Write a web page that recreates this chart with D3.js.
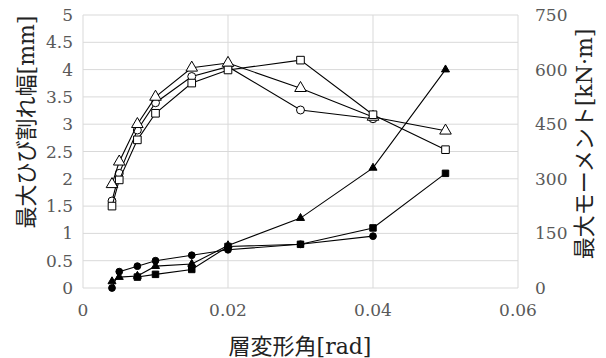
<!DOCTYPE html>
<html lang="ja">
<head>
<meta charset="utf-8">
<script src="https://d3js.org/d3.v7.min.js"></script>
<style>
  body { margin: 0; background: #fff; }
  text { font-family: "DejaVu Serif", "Noto Sans CJK JP", serif; }
</style>
</head>
<body>
<script>
// drift angle [rad]
var drift = [0.004, 0.005, 0.0075, 0.01, 0.015, 0.02, 0.03, 0.04, 0.05];

// max moment [kN·m] (right axis, open markers)
var momentTri  = [285, 347, 450, 525, 605, 618, 549, 470, 432];
var momentCirc = [239, 315, 434, 509, 581, 608, 489, 465];
var momentSq   = [225, 297, 407, 480, 563, 599, 626, 476, 380];

// max crack width [mm] (left axis, filled markers)
var crackCirc = [0, 0.3, 0.4, 0.5, 0.6, 0.7, 0.8, 0.95];
var crackTri  = [0.12, 0.2, 0.22, 0.4, 0.44, 0.78, 1.28, 2.2, 4.0];
var driftSqF  = [0.0075, 0.01, 0.015, 0.02, 0.03, 0.04, 0.05];
var crackSq   = [0.2, 0.25, 0.34, 0.76, 0.8, 1.1, 2.1];

var xTicks = [0, 0.02, 0.04, 0.06];
var yTicks = [0, 0.5, 1, 1.5, 2, 2.5, 3, 3.5, 4, 4.5, 5];
var y2Ticks = [0, 150, 300, 450, 600, 750];

var w = 606, h = 358;
var pl = 83, pr = 518, pt = 15, pb = 288;

var x = d3.scaleLinear().domain([0, 0.06]).range([pl, pr]);
var y = d3.scaleLinear().domain([0, 5]).range([pb, pt]);
var y2 = d3.scaleLinear().domain([0, 750]).range([pb, pt]);

var svg = d3.select("body").append("svg").attr("width", w).attr("height", h);

// grid
svg.append("g").selectAll("line").data(yTicks).enter().append("line")
  .attr("x1", pl).attr("x2", pr)
  .attr("y1", d => y(d)).attr("y2", d => y(d))
  .attr("stroke", "#d9d9d9").attr("stroke-width", 1);
svg.append("g").selectAll("line").data(xTicks).enter().append("line")
  .attr("x1", d => x(d)).attr("x2", d => x(d))
  .attr("y1", pt).attr("y2", pb)
  .attr("stroke", "#d9d9d9").attr("stroke-width", 1);

// tick labels
svg.append("g").selectAll("text").data(yTicks).enter().append("text")
  .attr("x", 73).attr("y", d => y(d) + 6)
  .attr("text-anchor", "end").attr("fill", "#595959").style("font-size", "17px")
  .text(d => d);
svg.append("g").selectAll("text").data(y2Ticks).enter().append("text")
  .attr("x", 535).attr("y", d => y2(d) + 6)
  .attr("text-anchor", "start").attr("fill", "#595959").style("font-size", "17px")
  .text(d => d);
svg.append("g").selectAll("text").data(xTicks).enter().append("text")
  .attr("x", d => x(d)).attr("y", 316)
  .attr("text-anchor", "middle").attr("fill", "#595959").style("font-size", "17px")
  .text(d => d);

// axis titles
svg.append("text").attr("x", 300).attr("y", 354).attr("text-anchor", "middle")
  .attr("fill", "#222").style("font-size", "22px").text("層変形角[rad]");
svg.append("text").attr("transform", "translate(34,122) rotate(-90)").attr("text-anchor", "middle")
  .attr("fill", "#222").style("font-size", "22px").text("最大ひび割れ幅[mm]");
svg.append("text").attr("transform", "translate(592,144) rotate(-90)").attr("text-anchor", "middle")
  .attr("fill", "#222").style("font-size", "22px").text("最大モーメント[kN·m]");

function series(xs, ys, ys_scale, shape, filled) {
  var pts = ys.map((v, i) => [x(xs[i]), ys_scale(v)]);
  svg.append("path").attr("d", d3.line()(pts))
    .attr("fill", "none").attr("stroke", "#000").attr("stroke-width", 1.1);
  var size = filled ? 42 : 58;
  if (shape === d3.symbolCircle) size = filled ? 36 : 50;
  if (shape === d3.symbolTriangle && filled) size = 28;
  var sym = d3.symbol().type(shape).size(size);
  svg.append("g").selectAll("path").data(pts).enter().append("path")
    .attr("d", sym)
    .attr("transform", d => "translate(" + d[0] + "," + d[1] + ")")
    .attr("fill", filled ? "#000" : "#fff")
    .attr("stroke", "#000").attr("stroke-width", 1);
}

series(drift, crackCirc, y, d3.symbolCircle, true);
series(drift, crackTri, y, d3.symbolTriangle, true);
series(driftSqF, crackSq, y, d3.symbolSquare, true);
series(drift, momentCirc, y2, d3.symbolCircle, false);
series(drift, momentTri, y2, d3.symbolTriangle, false);
series(drift, momentSq, y2, d3.symbolSquare, false);
</script>
</body>
</html>
